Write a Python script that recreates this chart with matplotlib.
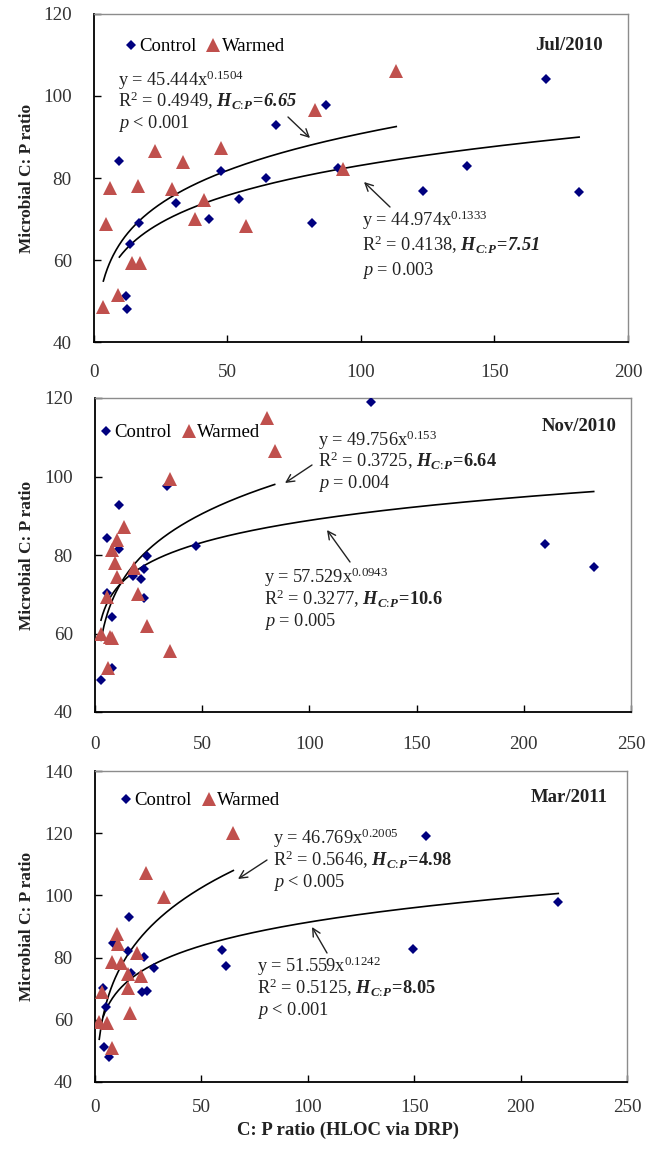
import numpy as np
import matplotlib
matplotlib.use("Agg")
import matplotlib.pyplot as plt
from matplotlib.lines import Line2D

plt.rcParams['font.family'] = ['Liberation Serif', 'DejaVu Serif']
plt.rcParams['mathtext.fontset'] = 'custom'
plt.rcParams['mathtext.rm'] = 'Liberation Serif'
plt.rcParams['mathtext.it'] = 'Liberation Serif:italic'
plt.rcParams['mathtext.bf'] = 'Liberation Serif:bold'
plt.rcParams['mathtext.bfit'] = 'Liberation Serif:italic:bold'

# ---------------- data ----------------
panel_titles = ["Jul/2010", "Nov/2010", "Mar/2011"]
series_names = ["Control", "Warmed"]

jul_ctrl_x = [9.5, 47.4, 64.5, 68.3, 86.8, 91.2, 30.7, 54.3, 43.0, 81.5, 16.9, 13.3, 11.9, 12.3, 169.2, 139.8, 123.4, 181.7]
jul_ctrl_y = [84.1, 81.8, 79.9, 92.9, 97.7, 82.4, 73.8, 75.0, 70.0, 69.0, 69.0, 63.8, 51.2, 48.1, 104.1, 82.9, 76.8, 76.5]
jul_warm_x = [4.4, 6.0, 3.5, 9.1, 16.3, 14.2, 17.3, 22.9, 29.2, 33.3, 41.1, 38.0, 47.6, 57.1, 82.8, 93.1, 113.2]
jul_warm_y = [68.8, 77.6, 48.6, 51.5, 78.1, 59.3, 59.2, 86.7, 77.2, 83.8, 74.6, 70.0, 87.2, 68.3, 96.6, 82.1, 106.1]

nov_ctrl_x = [2.8, 5.5, 5.5, 7.8, 8.1, 11.4, 11.4, 17.6, 21.5, 23.0, 24.1, 23.0, 33.5, 47.2, 128.8, 209.8, 232.6]
nov_ctrl_y = [48.2, 84.3, 70.2, 64.1, 51.1, 92.7, 81.5, 74.6, 73.8, 76.4, 79.7, 69.0, 97.6, 82.3, 119.1, 82.7, 76.9]
nov_warm_x = [2.8, 5.5, 7.0, 8.1, 6.2, 7.8, 10.1, 9.3, 10.1, 13.7, 18.2, 20.2, 24.4, 35.0, 35.0, 80.2, 83.8]
nov_warm_y = [59.9, 69.4, 59.2, 58.8, 51.3, 81.3, 83.8, 77.9, 74.5, 87.2, 76.8, 70.1, 61.9, 99.3, 55.6, 114.8, 106.5]

mar_ctrl_x = [3.9, 5.0, 4.4, 6.7, 8.6, 16.0, 15.7, 16.9, 23.2, 21.9, 24.6, 27.7, 59.8, 61.4, 155.5, 149.6, 217.7]
mar_ctrl_y = [70.1, 64.2, 51.4, 48.1, 84.6, 93.2, 82.2, 74.9, 80.1, 68.8, 69.3, 76.6, 82.4, 77.3, 119.1, 82.8, 98.0]
mar_warm_x = [2.0, 5.5, 3.1, 7.8, 7.8, 10.2, 11.0, 12.2, 15.4, 15.4, 16.5, 19.9, 21.5, 23.8, 32.4, 65.0]
mar_warm_y = [59.4, 59.1, 69.0, 51.0, 78.7, 87.5, 84.3, 78.2, 74.6, 70.3, 62.1, 81.6, 74.2, 107.1, 99.4, 120.0]

# power-law trendline coefficients y = a * x^b  (control, warmed)
jul_fit = [(44.974, 0.1333), (45.444, 0.1504)]
nov_fit = [(57.529, 0.0943), (49.756, 0.153)]
mar_fit = [(51.559, 0.1242), (46.769, 0.2005)]

HCP = r"\mathbfit{H}_{\mathbfit{C}\!:\!\mathbfit{P}}"

def hline(r2, h, italic):
    val = (r"\mathbfit{" if italic else r"\mathbf{") + h + "}"
    return r"R$^2$ = " + r2 + ", $" + HCP + r"\!\mathbf{=}\!" + val + "$"

# annotation texts (control, warmed)
jul_text = [["y = 44.974x$^{0.1333}$", hline("0.4138", "7.51", True), r"$p$ = 0.003"],
            ["y = 45.444x$^{0.1504}$", hline("0.4949", "6.65", True), r"$p$ < 0.001"]]
nov_text = [["y = 57.529x$^{0.0943}$", hline("0.3277", "10.6", False), r"$p$ = 0.005"],
            ["y = 49.756x$^{0.153}$", hline("0.3725", "6.64", False), r"$p$ = 0.004"]]
mar_text = [["y = 51.559x$^{0.1242}$", hline("0.5125", "8.05", False), r"$p$ < 0.001"],
            ["y = 46.769x$^{0.2005}$", hline("0.5646", "4.98", False), r"$p$ < 0.005"]]

x_ticks = [[0, 50, 100, 150, 200], [0, 50, 100, 150, 200, 250], [0, 50, 100, 150, 200, 250]]
y_ticks = [[40, 60, 80, 100, 120], [40, 60, 80, 100, 120], [40, 60, 80, 100, 120, 140]]

ylabel = "Microbial C: P ratio"
xlabel = "C: P ratio (HLOC via DRP)"

# ---------------- layout ----------------
W, H = 655, 1151
fig = plt.figure(figsize=(W / 100, H / 100), dpi=100)

ctrl_color = '#00007F'
warm_color = '#C0504D'
txt_color = '#222222'

axes_px = [(94, 14, 628, 342), (95, 398, 631, 712), (95, 771, 627, 1082)]
xpads = [16, 17, 12]

def fp(x, y):
    return (x, H - y)

panels = [
    dict(cx=jul_ctrl_x, cy=jul_ctrl_y, wx=jul_warm_x, wy=jul_warm_y, fit=jul_fit, txt=jul_text,
         text_pos=[(362, [226, 251, 275]), (118, [86, 107, 128])],
         arrows=[((390, 207), (364, 182)), ((288, 117), (310, 138))],
         legend=(0.058, 0.90), title=(0.952, 0.905)),
    dict(cx=nov_ctrl_x, cy=nov_ctrl_y, wx=nov_warm_x, wy=nov_warm_y, fit=nov_fit, txt=nov_text,
         text_pos=[(264, [583, 605, 626]), (318, [446, 467, 488])],
         arrows=[((350, 562), (327, 530)), ((312, 465), (285, 483))],
         legend=(0.01, 0.89), title=(0.974, 0.908)),
    dict(cx=mar_ctrl_x, cy=mar_ctrl_y, wx=mar_warm_x, wy=mar_warm_y, fit=mar_fit, txt=mar_text,
         text_pos=[(257, [972, 994, 1015]), (273, [844, 866, 887])],
         arrows=[((327, 953), (312, 927)), ((267, 860), (238, 879))],
         legend=(0.048, 0.905), title=(0.964, 0.916)),
]

fs_text = 13.2
for i, p in enumerate(panels):
    l, t, r, b = axes_px[i]
    ax = fig.add_axes([l / W, 1 - b / H, (r - l) / W, (b - t) / H])
    ax.set_xlim(x_ticks[i][0], x_ticks[i][-1])
    ax.set_ylim(y_ticks[i][0], y_ticks[i][-1])
    ax.set_xticks(x_ticks[i])
    ax.set_yticks(y_ticks[i])
    ax.tick_params(direction='in', length=5, width=1, labelsize=13.8, labelcolor='#333333')
    ax.tick_params(axis='x', pad=xpads[i])
    ax.tick_params(axis='y', pad=16)
    for s in ['left', 'bottom']:
        ax.spines[s].set_color('black')
        ax.spines[s].set_linewidth(1.3)
    for s in ['top', 'right']:
        ax.spines[s].set_color('#8c8c8c')
        ax.spines[s].set_linewidth(1.0)

    # trendlines
    for (a, bexp), xs in zip(p['fit'], [p['cx'], p['wx']]):
        xx = np.linspace(min(xs), max(xs), 300)
        ax.plot(xx, a * xx ** bexp, color='black', lw=1.2, zorder=2)

    ax.plot(p['cx'], p['cy'], linestyle='none', marker='D', ms=5.0, color=ctrl_color,
            markeredgewidth=0, zorder=3)
    ax.plot(p['wx'], p['wy'], linestyle='none', marker='^', ms=9.5, color=warm_color,
            markeredgewidth=0, zorder=3)

    handles = [Line2D([], [], linestyle='none', marker='D', ms=5.0, color=ctrl_color, markeredgewidth=0),
               Line2D([], [], linestyle='none', marker='^', ms=9.5, color=warm_color, markeredgewidth=0)]
    ax.legend(handles, series_names, loc='center left', bbox_to_anchor=p['legend'], ncol=2,
              frameon=False, fontsize=13.5, handlelength=0.6, handletextpad=0.15,
              columnspacing=0.6, borderpad=0, borderaxespad=0)

    ax.text(p['title'][0], p['title'][1], panel_titles[i], transform=ax.transAxes,
            ha='right', va='center', fontsize=13.5, fontweight='bold', color=txt_color)

    for (tx, ys), lines in zip(p['text_pos'], p['txt']):
        for yy, line in zip(ys, lines):
            fig.text(tx / W, 1 - yy / H, line, ha='left', va='baseline', fontsize=fs_text,
                     color=txt_color)

    for (s, e) in p['arrows']:
        ax.annotate('', xy=fp(*e), xycoords='figure pixels', xytext=fp(*s),
                    textcoords='figure pixels',
                    arrowprops=dict(arrowstyle='->', color=txt_color, lw=1.0,
                                    mutation_scale=14, shrinkA=0, shrinkB=0))

    ax.set_ylabel(ylabel, fontsize=12.5, fontweight='bold', color=txt_color)
    ax.yaxis.set_label_coords((35 - l) / (r - l), 0.5)

fig.text(348 / W, 1 - 1130 / H, xlabel, ha='center', va='center', fontsize=13.5,
         fontweight='bold', color=txt_color)

fig.savefig('out.png', dpi=100)
